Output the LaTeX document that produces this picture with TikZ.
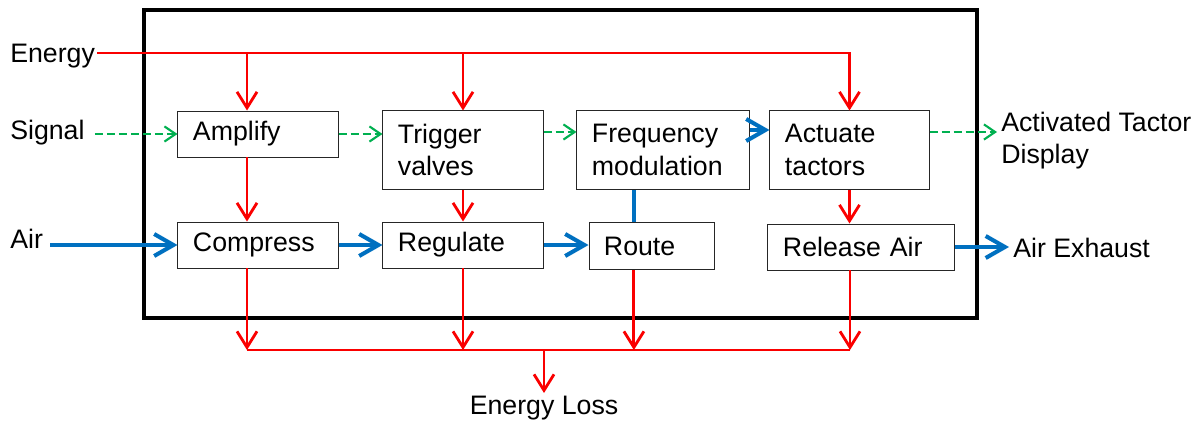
\documentclass[tikz,border=0pt]{standalone}
\usepackage{fontspec}
\setmainfont{Liberation Sans}
\usetikzlibrary{calc,arrows.meta}
\definecolor{rouge}{RGB}{250,0,0}
\definecolor{bleu}{RGB}{0,112,192}
\definecolor{vert}{RGB}{0,176,80}
\begin{document}
\begin{tikzpicture}[x=0.025cm,y=-0.025cm]
        \tikzstyle{fonction} = [rectangle, draw=black!85, line width=0.7pt, inner xsep=0.375cm, inner ysep=0pt, align=left, font=\fontsize{19}{23}\selectfont]
        \tikzstyle{etiquette} = [inner sep=0pt, align=left, font=\fontsize{19}{23}\selectfont]
        \tikzstyle{energie} = [draw=rouge, line width=2pt]
        \tikzstyle{energie_fleche} = [energie, -{Straight Barb[length=0.4cm,width=0.5cm]}]
        \tikzstyle{air} = [draw=bleu, line width=2.9pt]
        \tikzstyle{air_fleche} = [air, -{Straight Barb[length=0.48cm,width=0.55cm]}]
        \tikzstyle{signal} = [draw=vert, line width=1.5pt, dash pattern=on 0.2cm off 0.1cm, -{Straight Barb[length=0.28cm,width=0.38cm]}]
        \useasboundingbox (0,0) rectangle (1202,426);
        \coordinate (cadre_haut_gauche) at (144,10);
        \coordinate (cadre_bas_droite) at (977,318);
        \draw[line width=2.2pt] (cadre_haut_gauche) rectangle (cadre_bas_droite);
        \node (amplify) [fonction, text width=3.25cm, minimum height=1.15cm] at (258,134) {Amplify};
        \node (compress) [fonction, text width=3.25cm, minimum height=1.15cm] at (258,245) {Compress};
        \node (trigger) [fonction, text width=3.25cm, minimum height=1.95cm] at (463,150) {Trigger\\valves};
        \node (regulate) [fonction, text width=3.25cm, minimum height=1.15cm] at (463,245) {Regulate};
        \node (freq) [fonction, text width=3.55cm, minimum height=1.95cm] at (663,150) {Frequency\\modulation};
        \node (route) [fonction, text width=2.375cm, minimum height=1.175cm] at (651.5,246) {Route};
        \node (actuate) [fonction, text width=3.225cm, minimum height=1.95cm] at (849.5,150) {Actuate\\tactors};
        \node (release) [fonction, text width=3.9cm, minimum height=1.15cm] at (861,247) {Release Air};
        \node (energie_txt) [etiquette, anchor=base west] at (10,63) {Energy};
        \node (signal_txt) [etiquette, anchor=base west] at (10,140) {Signal};
        \node (air_txt) [etiquette, anchor=base west] at (10,248) {Air};
        \node (affichage) [etiquette, anchor=north west] at (1001,112) {Activated Tactor\\Display};
        \node (echappement) [etiquette, anchor=base west] at (1013,257) {Air Exhaust};
        \node (perte) [etiquette, anchor=north, inner sep=2pt] at (544,393) {Energy Loss};
        \coordinate (energie_bus) at (97,53);
        \coordinate (perte_bus) at (544,350);
        % energie
        \draw[energie_fleche] (energie_bus) -| (actuate.north);
        \draw[energie_fleche] ([xshift=-0.275cm]amplify.north |- energie_bus) -- ([xshift=-0.275cm]amplify.north);
        \draw[energie_fleche] (trigger.north |- energie_bus) -- (trigger.north);
        \draw[energie_fleche] ([xshift=-0.275cm]amplify.south) -- ([xshift=-0.275cm]compress.north);
        \draw[energie_fleche] (trigger.south) -- (regulate.north);
        \draw[energie_fleche] (actuate.south) -- (actuate.south |- release.north);
        \draw[energie_fleche] ([xshift=-0.275cm]compress.south) -- ([xshift=-0.275cm]compress.south |- perte_bus);
        \draw[energie_fleche] (regulate.south) -- (regulate.south |- perte_bus);
        \draw[energie_fleche] ([xshift=-0.44cm]route.south) -- ([xshift=-0.44cm]route.south |- perte_bus);
        \draw[energie_fleche] ([xshift=-0.275cm]release.south) -- ([xshift=-0.275cm]release.south |- perte_bus);
        \draw[energie] ([xshift=-0.275cm]compress.south |- perte_bus) -- ([xshift=-0.275cm]release.south |- perte_bus);
        \draw[energie_fleche] (perte_bus) -- (perte.north);
        % signal
        \draw[signal] ([xshift=0.25cm]signal_txt.east |- amplify.west) -- (amplify.west);
        \draw[signal] (amplify.east) -- (amplify.east -| trigger.west);
        \draw[signal] ([yshift=0.45cm]trigger.east) -- ([yshift=0.45cm]freq.west);
        \draw[signal, shorten >=0.1cm] ([yshift=0.45cm]actuate.east) -- ([yshift=0.45cm]actuate.east -| affichage.west);
        % air
        \draw[air_fleche] ([xshift=0.175cm]air_txt.east |- compress.west) -- (compress.west);
        \draw[air_fleche] (compress.east) -- (regulate.west);
        \draw[air_fleche] (regulate.east) -- (regulate.east -| route.west);
        \draw[air_fleche] ([yshift=0.5cm]freq.east) -- ([yshift=0.5cm]freq.east -| actuate.west);
        \draw[air] ([xshift=-0.44cm]route.north) -- ([xshift=-0.44cm]route.north |- freq.south);
        \draw[air_fleche, shorten >=0.1cm] (release.east) -- (release.east -| echappement.west);
    \end{tikzpicture}
\end{document}
